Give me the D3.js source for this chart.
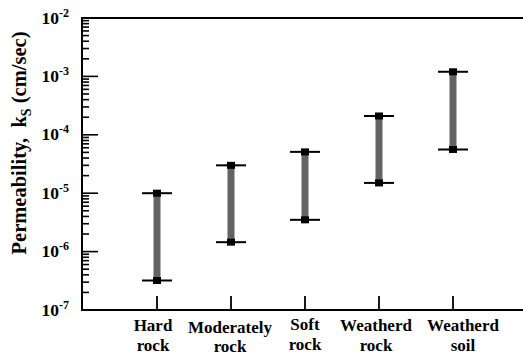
<!DOCTYPE html>
<html><head><meta charset="utf-8">
<script src="https://cdn.jsdelivr.net/npm/d3@7"></script>
<style>body{margin:0;background:#fff}svg{display:block}text{font-family:"Liberation Serif","Times New Roman",serif;font-weight:bold}</style>
</head><body><svg id="c" width="523" height="356"></svg>
<script>
const categories = [["Hard","rock"],["Moderately","rock"],["Soft","rock"],["Weatherd","rock"],["Weatherd","soil"]];
const lowValues  = [3.2e-7, 1.45e-6, 3.5e-6, 1.5e-5, 5.6e-5];
const highValues = [1.0e-5, 3.0e-5, 5.1e-5, 2.1e-4, 1.2e-3];
const yTickExps  = [-2,-3,-4,-5,-6,-7];

const svg = d3.select("#c");
const L = 82, T = 18, B = 310, R = 523;
const y = d3.scaleLog().domain([1e-7,1e-2]).range([B,T]);
const x = d3.scalePoint().domain(categories.map((d,i)=>i)).range([157,453]);

const ticks = [];
for (let e=-7;e<-2;e++) for (let m=1;m<10;m++) ticks.push({v:m*Math.pow(10,e),major:m===1});
ticks.push({v:1e-2,major:true});
svg.append("g").selectAll("line").data(ticks).join("line")
  .attr("x1",L).attr("x2",d=>L+(d.major?16:7))
  .attr("y1",d=>y(d.v)).attr("y2",d=>y(d.v))
  .attr("stroke","#000").attr("stroke-width",1.6);

svg.append("line").attr("x1",L).attr("x2",L).attr("y1",T-1).attr("y2",B+1).attr("stroke","#000").attr("stroke-width",2);
svg.append("line").attr("x1",L-1).attr("x2",R).attr("y1",T).attr("y2",T).attr("stroke","#000").attr("stroke-width",2);
svg.append("line").attr("x1",L-1).attr("x2",R).attr("y1",B).attr("y2",B).attr("stroke","#000").attr("stroke-width",1.8);

const yl = svg.append("g").selectAll("text").data(yTickExps).join("text")
  .attr("x",69).attr("y",d=>y(Math.pow(10,d))+5.5).attr("text-anchor","end")
  .attr("font-size",17.5);
yl.append("tspan").text("10");
yl.append("tspan").attr("dy",-7).attr("font-size",12).text(d=>"-"+(-d));

svg.append("g").selectAll("line").data(categories.map((d,i)=>i)).join("line")
  .attr("x1",d=>x(d)).attr("x2",d=>x(d)).attr("y1",B).attr("y2",B-14)
  .attr("stroke","#000").attr("stroke-width",1.8);

const dxs=[-4,-1,0,-3,10], dys=[0,1.5,-1,0,0];
const lines = [0,1];
categories.forEach((c,i)=>{
  svg.append("g").selectAll("text").data(lines).join("text")
    .attr("text-anchor","middle").attr("font-size",17)
    .attr("x",x(i)+dxs[i]).attr("y",l=>331+l*19.5+dys[i]).text(l=>c[l]);
});

const data = categories.map((c,i)=>({i,lo:lowValues[i],hi:highValues[i]}));
const g = svg.append("g");
g.selectAll("rect.bar").data(data).join("rect").attr("class","bar")
  .attr("x",d=>x(d.i)-3.5).attr("width",7)
  .attr("y",d=>y(d.hi)).attr("height",d=>y(d.lo)-y(d.hi)).attr("fill","#636363");
["hi","lo"].forEach(k=>{
  g.selectAll("line.c"+k).data(data).join("line").attr("class","c"+k)
    .attr("x1",d=>x(d.i)-15).attr("x2",d=>x(d.i)+15)
    .attr("y1",d=>y(d[k])).attr("y2",d=>y(d[k])).attr("stroke","#000").attr("stroke-width",2);
  g.selectAll("rect.s"+k).data(data).join("rect").attr("class","s"+k)
    .attr("x",d=>x(d.i)-4).attr("y",d=>y(d[k])-3.5).attr("width",8).attr("height",7).attr("fill","#000");
});

const lab = svg.append("text").attr("transform","translate(26,143) rotate(-90)")
  .attr("text-anchor","middle").attr("font-size",20.5).attr("xml:space","preserve");
lab.append("tspan").text("Permeability,\u00a0\u00a0k");
lab.append("tspan").attr("dy",5).attr("font-size",14).text("S");
lab.append("tspan").attr("dy",-5).text("\u00a0(cm/sec)");
</script></body></html>
